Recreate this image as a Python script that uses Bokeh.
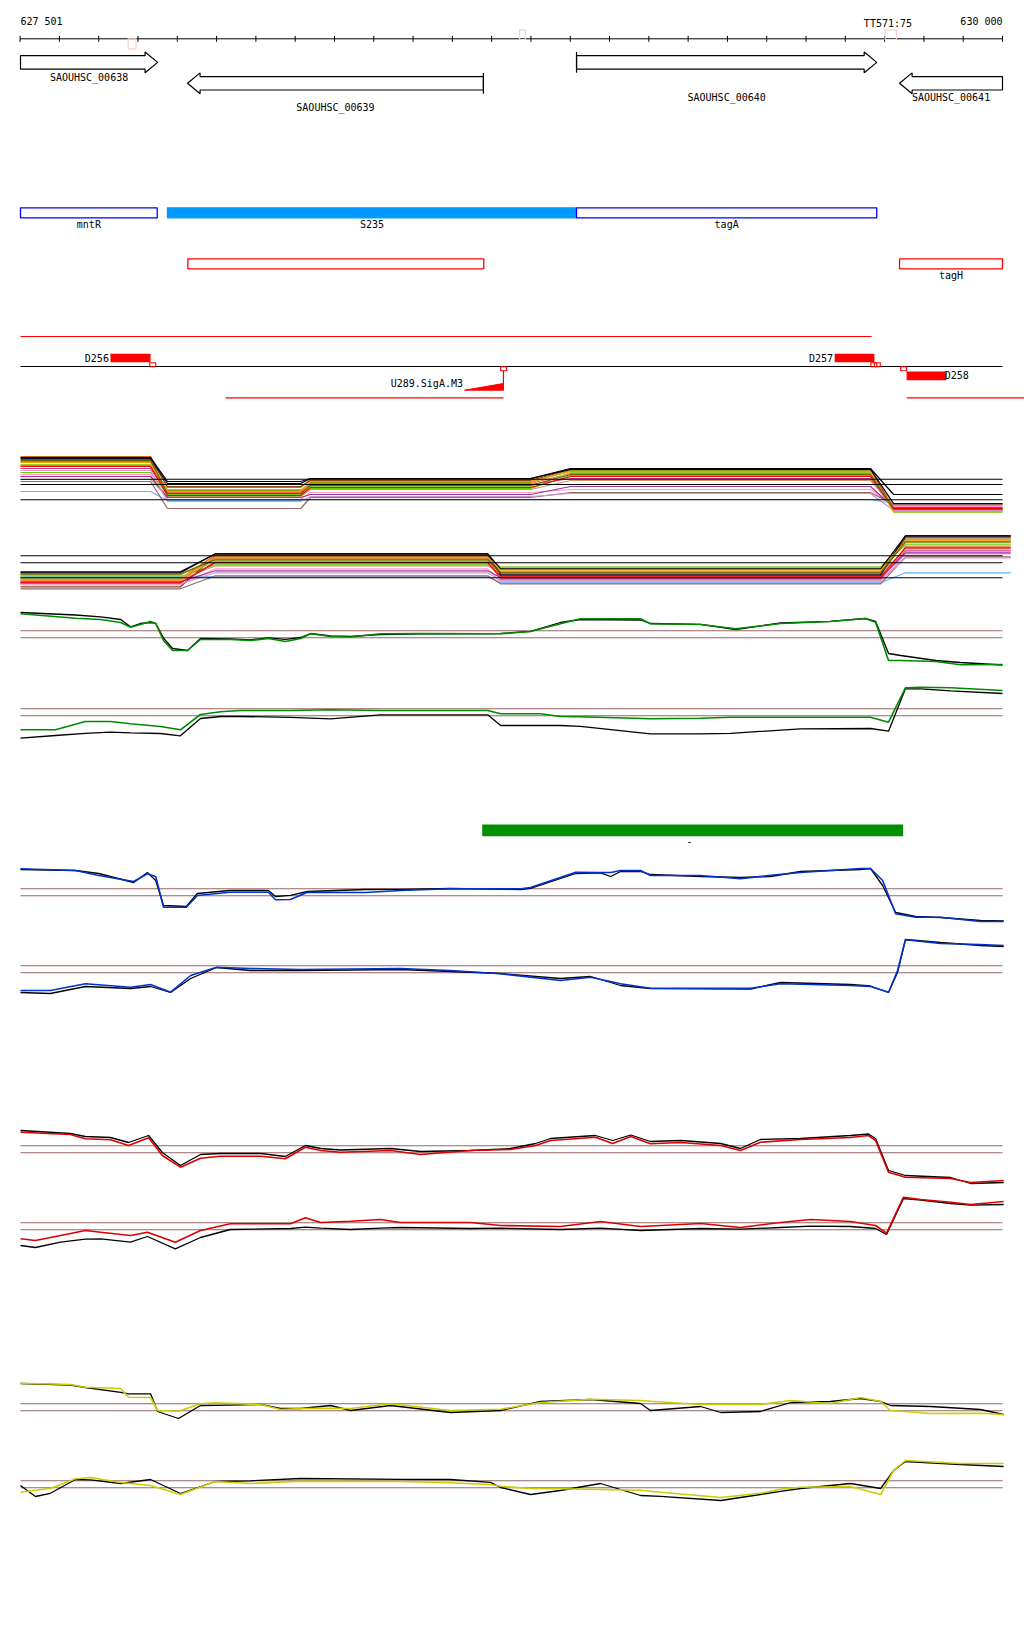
from bokeh.plotting import figure
from bokeh.models import Range1d
from bokeh.embed import file_html
from bokeh.resources import INLINE
from bokeh.core.properties import value

# ---------------- view / coordinate system ----------------
VIEW_START = 627501
VIEW_END = 630000
PAGE_W, PAGE_H, PAGE_TOP = 1024, 1636, 0
BP_PER_PX = (VIEW_END - VIEW_START) / 982.0
X0 = VIEW_START - 20 * BP_PER_PX
X1 = X0 + PAGE_W * BP_PER_PX
FONT = value("DejaVu Sans Mono")

# ---------------- ruler ----------------
ruler_ticks = list(range(627500, 630001, 100))
ruler_labels = ["627 501", "630 000"]
ruler_label_pos = [627501, 630000]
ruler_label_align = ["left", "right"]

term_start = [627775, 628771, 629701]
term_end = [627795, 628786, 629730]
term_side = [-1, 1, 1]
term_label = ["", "", "TT571:75"]

# ---------------- genes ----------------
gene_names = ["SAOUHSC_00638", "SAOUHSC_00639", "SAOUHSC_00640", "SAOUHSC_00641"]
gene_starts = [627501, 627926, 628916, 629738]
gene_ends = [627850, 628679, 629680, 630000]
gene_strands = [1, -1, 1, -1]
gene_label_y = [76.7, 106.7, 97.3, 97.3]

# ---------------- features ----------------
feat_names = ["mntR", "S235", "tagA", "", "tagH"]
feat_starts = [627501, 627875, 628916, 627927, 629738]
feat_ends = [627849, 628916, 629680, 628680, 630000]
feat_line = ["#0000FF", "#0099FF", "#0000FF", "#FF0000", "#FF0000"]
feat_fill = ["#FFFFFF", "#0099FF", "#FFFFFF", "#FFFFFF", "#FFFFFF"]
feat_row = [0, 0, 0, 1, 1]

# ---------------- transcript lines / blocks ----------------
tl_start = [627501, 627501, 628023, 629756]
tl_end = [629667, 630000, 628730, 630056]
tl_row = [0, 1, 2, 2]
tl_color = ["#FF0000", "#000000", "#FF0000", "#FF0000"]

block_names = ["D256", "D257", "D258"]
block_starts = [627730, 629573, 629756]
block_ends = [627832, 629674, 629857]
block_strand = [1, 1, -1]

mark_starts = [627830, 629665, 629674, 629741, 628723]
mark_strand = [1, 1, 1, -1, -1]

ramp_name = "U289.SigA.M3"
ramp_start, ramp_end = 628631, 628730

green_name = "-"
green_start, green_end = 628676, 629747

# ---------------- multi-sample tracks A / B ----------------
ab_colors = ["#D2691E", "#999900", "#66CC00", "#CC3399", "#FF99CC", "#66B2FF",
             "#FF6347", "#8B4513", "#CC9966", "#993399", "#996666", "#CC99CC",
             "#99CC33", "#000033", "#FF9900", "#FF0000", "#666600", "#000000"]
A_x = [627501, 627832, 627875, 628214, 628239, 628799, 628901, 629664, 629723, 630000]
A_L = [2.8, 2.3, 1.2, 1.6, 1.0, -0.7, 1.9, 2.5, 0.5, 0.8, 0.3, 1.4, 2.0, 2.6, 2.2, 1.8, 2.4, 2.7]
A_M1 = [-0.3, -0.6, -1.0, -0.9, -1.5, -1.6, -0.8, -0.2, -1.2, -1.3, -2.4, -1.7, -0.5, 0.1, -0.7, -1.1, -0.9, 0.3]
A_M2 = [0.5, 0.2, -0.4, 0.0, -0.8, -1.5, 0.1, 0.4, -0.5, -1.0, -1.3, -1.2, -0.2, 0.6, 0.3, -0.3, -0.1, 0.6]
A_M3 = [1.6, 1.4, 0.9, 0.6, -0.5, -1.5, 1.1, 1.5, 0.4, -0.2, -0.8, -0.9, 1.2, 1.5, 1.3, 0.8, 1.0, 1.6]
A_R = [-2.0, -2.7, -2.3, -2.5, -2.2, -1.9, -2.6, -2.4, -2.1, -2.3, -2.0, -2.6, -2.8, -1.9, -2.7, -2.4, -2.5, -1.0]
A_thr = [0.53, 0.0, -1.53]

B_x = [627501, 627908, 627997, 628690, 628723, 629690, 629753, 630021]
B_L = [-1.6, -1.2, -1.4, -2.0, -2.2, -1.3, -1.8, -2.4, -1.7, -1.9, -2.6, -2.1, -1.5, -1.0, -1.7, -2.0, -1.1, -0.9]
B_M1 = [0.8, 0.4, -0.2, 0.1, -0.6, -1.4, 0.5, 0.7, -0.3, -0.8, -1.3, -1.0, 0.2, 0.9, 0.6, 0.0, 0.3, 0.9]
B_M2 = [-1.0, -0.9, -0.5, -1.6, -1.9, -2.0, -1.7, -1.3, -1.1, -1.5, -2.1, -1.8, -0.4, -1.2, -0.8, -1.4, -1.0, -0.6]
B_R = [2.6, 2.3, 1.8, 1.2, 0.9, -1.0, 1.6, 2.5, 1.4, 1.0, 0.6, 0.5, 2.0, 2.7, 2.2, 1.5, 2.1, 2.7]
B_thr = [0.7, 0.0, -1.5]

# ---------------- paired tracks C..J ----------------
thr_lines = [0.35, -0.35]

C_x = [627501, 627641, 627705, 627756, 627781, 627806, 627832, 627845, 627865, 627888, 627926, 627959,
       628035, 628086, 628132, 628175, 628214, 628239, 628290, 628341, 628417, 628519, 628723, 628799,
       628875, 628926, 629079, 629104, 629232, 629321, 629435, 629562, 629651, 629677, 629710, 629741,
       629830, 629893, 630000]
C_col = [2.05, 1.61, 1.48, 1.18, 0.71, 0.98, 1.28, 1.08, -0.62, -1.62, -1.62, -0.52, -0.52, -0.62, -0.42,
         -0.72, -0.42, 0.05, -0.22, -0.27, 0.05, 0.08, 0.05, 0.28, 1.05, 1.55, 1.55, 1.05, 0.98, 0.55,
         1.08, 1.28, 1.58, 1.2, -2.62, -2.62, -2.72, -3.05, -3.02]
C_blk = [2.18, 1.93, 1.75, 1.48, 0.75, 1.08, 1.18, 1.1, -0.4, -1.42, -1.62, -0.42, -0.45, -0.55, -0.35,
         -0.5, -0.32, 0.08, -0.15, -0.2, -0.02, 0.05, 0.08, 0.3, 1.18, 1.48, 1.43, 1.08, 1.0, 0.48,
         1.13, 1.3, 1.58, 1.3, -1.92, -2.12, -2.62, -2.82, -3.07]

D_x = [627501, 627590, 627666, 627730, 627781, 627857, 627908, 627959, 628010, 628061, 628188, 628290,
       628417, 628690, 628723, 628824, 628875, 628926, 629104, 629232, 629308, 629486, 629664, 629710,
       629753, 629792, 629868, 630000]
D_col = [-1.75, -1.75, -0.92, -0.92, -1.15, -1.42, -1.75, -0.22, 0.05, 0.18, 0.18, 0.25, 0.18, 0.18,
         -0.15, -0.15, -0.42, -0.45, -0.65, -0.6, -0.49, -0.49, -0.49, -0.99, 2.45, 2.51, 2.45, 2.18]
D_blk = [-2.59, -2.32, -2.1, -1.99, -2.05, -2.12, -2.35, -0.62, -0.42, -0.42, -0.5, -0.65, -0.25, -0.25,
         -1.32, -1.32, -1.32, -1.4, -2.15, -2.15, -2.1, -1.65, -1.62, -1.89, 2.35, 2.35, 2.15, 1.88]

E_x = [627501, 627641, 627700, 627789, 627824, 627845, 627865, 627923, 627951, 628033, 628132, 628150,
       628188, 628231, 628379, 628468, 628595, 628774, 628799, 628914, 628977, 629003, 629028, 629079,
       629104, 629232, 629333, 629410, 629486, 629639, 629664, 629695, 629728, 629779, 629842, 629944,
       630003]
E_col = [2.35, 2.18, 1.68, 1.08, 1.85, 1.58, -1.49, -1.49, -0.32, 0.01, 0.01, -0.75, -0.72, 0.01, -0.02,
         0.18, 0.35, 0.35, 0.48, 2.01, 1.98, 1.98, 2.18, 2.18, 1.68, 1.68, 1.35, 1.7, 1.98, 2.38, 2.38,
         1.18, -2.15, -2.49, -2.49, -2.92, -2.92]
E_blk = [2.28, 2.18, 1.88, 0.98, 1.98, 1.18, -1.32, -1.42, -0.12, 0.18, 0.18, -0.42, -0.3, 0.08, 0.28,
         0.3, 0.38, 0.28, 0.4, 1.88, 1.95, 1.58, 2.08, 2.1, 1.78, 1.58, 1.48, 1.58, 2.08, 2.28, 2.38,
         0.68, -2.02, -2.42, -2.52, -2.82, -2.87]

F_x = [627501, 627577, 627666, 627781, 627832, 627883, 627934, 628000, 628086, 628214, 628468, 628595,
       628723, 628875, 628952, 629028, 629104, 629359, 629435, 629613, 629664, 629710, 629733, 629753,
       629842, 629944, 630003]
F_col = [-2.12, -2.12, -1.45, -1.79, -1.52, -2.29, -0.62, 0.21, 0.08, -0.02, 0.08, -0.12, -0.45, -1.12,
         -0.79, -1.45, -1.89, -1.89, -1.45, -1.62, -1.72, -2.29, -0.12, 2.95, 2.58, 2.48, 2.38]
F_blk = [-2.32, -2.42, -1.72, -1.92, -1.72, -2.32, -0.92, 0.18, -0.12, -0.12, -0.02, -0.22, -0.42, -0.92,
         -0.72, -1.62, -1.92, -1.97, -1.32, -1.52, -1.67, -2.32, -0.3, 2.98, 2.68, 2.38, 2.28]

G_x = [627501, 627628, 627666, 627730, 627776, 627827, 627862, 627908, 627959, 628010, 628112, 628175,
       628226, 628265, 628315, 628443, 628519, 628646, 628748, 628812, 628850, 628964, 629008, 629054,
       629104, 629181, 629283, 629333, 629384, 629486, 629613, 629659, 629677, 629710, 629753, 629868,
       629919, 630003]
G_col = [1.70, 1.47, 1.04, 0.94, 0.37, 1.14, -0.63, -1.80, -0.90, -0.70, -0.70, -0.96, 0.20, -0.13, -0.30,
         -0.13, -0.53, -0.13, -0.03, 0.37, 0.87, 1.20, 0.57, 1.27, 0.54, 0.67, 0.37, -0.13, 0.70, 0.97,
         1.17, 1.37, 0.87, -2.30, -2.80, -2.93, -3.33, -3.13]
G_blk = [1.87, 1.57, 1.27, 1.17, 0.67, 1.37, -0.33, -1.63, -0.53, -0.43, -0.43, -0.73, 0.37, 0.07, -0.08,
         0.07, -0.23, -0.13, 0.07, 0.57, 1.07, 1.37, 0.87, 1.42, 0.77, 0.87, 0.57, 0.07, 0.97, 1.07,
         1.37, 1.52, 1.07, -2.13, -2.63, -2.83, -3.43, -3.33]

H_x = [627501, 627539, 627603, 627666, 627705, 627781, 627824, 627895, 627959, 628035, 628188, 628226,
       628265, 628341, 628417, 628468, 628646, 628723, 628875, 628977, 629079, 629232, 629333, 629435,
       629512, 629613, 629677, 629705, 629748, 629792, 629868, 629919, 630003]
H_col = [-1.26, -1.43, -0.93, -0.43, -0.6, -0.93, -0.60, -1.60, -0.43, 0.24, 0.24, 0.84, 0.37, 0.5, 0.67,
         0.37, 0.37, 0.07, -0.03, 0.47, -0.03, 0.27, -0.13, 0.37, 0.67, 0.47, 0.07, -0.70, 2.90, 2.67,
         2.40, 2.17, 2.47]
H_blk = [-1.93, -2.13, -1.6, -1.3, -1.26, -1.60, -1.03, -2.26, -1.13, -0.33, -0.23, -0.1, -0.2, -0.33,
         -0.2, -0.13, -0.23, -0.2, -0.33, -0.2, -0.43, -0.23, -0.3, -0.13, 0.0, -0.03, -0.23, -0.83,
         2.77, 2.6, 2.27, 2.1, 2.17]

I_x = [627501, 627628, 627666, 627756, 627776, 627832, 627850, 627903, 627959, 627997, 628112, 628163,
       628214, 628290, 628341, 628443, 628595, 628723, 628824, 628952, 629079, 629104, 629232, 629283,
       629384, 629461, 629562, 629639, 629690, 629715, 629817, 629944, 630003]
I_col = [2.41, 2.28, 2.01, 1.88, 1.01, 0.98, -0.32, -0.39, 0.35, 0.45, 0.28, -0.22, -0.12, -0.1, -0.12,
         0.35, -0.32, -0.19, 0.48, 0.81, 0.68, 0.6, 0.28, 0.3, 0.28, 0.68, 0.38, 0.98, 0.58, -0.32,
         -0.62, -0.59, -0.72]
I_blk = [2.38, 2.23, 1.98, 1.5, 1.35, 1.35, -0.42, -1.12, 0.18, 0.2, 0.28, -0.12, -0.12, 0.18, -0.32,
         0.18, -0.52, -0.32, 0.58, 0.78, 0.38, -0.32, 0.08, -0.52, -0.42, 0.48, 0.58, 0.88, 0.58, 0.18,
         0.08, -0.22, -0.72]

J_x = [627501, 627539, 627577, 627641, 627679, 627756, 627832, 627908, 627997, 628086, 628214, 628468,
       628595, 628697, 628723, 628799, 628875, 628977, 629079, 629130, 629283, 629384, 629435, 629486,
       629613, 629690, 629723, 629753, 629893, 630003]
J_col = [-0.79, -0.6, -0.42, 0.55, 0.68, 0.18, -0.12, -1.02, 0.28, 0.08, 0.31, 0.28, 0.15, -0.02, -0.2,
         -0.42, -0.45, -0.52, -0.6, -0.79, -1.32, -0.9, -0.49, -0.3, -0.22, -1.02, 1.38, 2.38, 2.08, 2.08]
J_blk = [-0.12, -1.22, -0.9, 0.48, 0.45, 0.08, 0.48, -0.92, 0.28, 0.35, 0.58, 0.5, 0.48, 0.2, -0.32,
         -1.02, -0.62, 0.08, -1.12, -1.2, -1.62, -1.02, -0.7, -0.42, 0.08, -0.42, 1.38, 2.28, 1.98, 1.78]

# ---------------- layout (page pixel rows) ----------------
RULER_Y = 38.3
GENE_ROW_Y = {1: 61.9, -1: 82.8}
BODY_H, HEAD_H, HEAD_BP = 6.7, 10.4, 32
FEAT_ROWS = [(207.3, 217.3, 224.3), (258.3, 268.3, 275.3)]
TL_ROWS = [336.0, 366.0, 397.3]
track_base = {"A": 484.0, "B": 562.3, "C": 633.8, "D": 711.8, "E": 891.8, "F": 968.8,
              "G": 1148.7, "H": 1225.7, "I": 1406.8, "J": 1483.8}
UNIT_PX = 10.0
BOTTOM = PAGE_TOP + PAGE_H

p = figure(width=PAGE_W, height=PAGE_H, x_range=Range1d(X0, X1), y_range=Range1d(BOTTOM, PAGE_TOP),
           output_backend="svg", toolbar_location=None, min_border=0,
           x_axis_location=None, y_axis_location=None, outline_line_color=None)
p.xgrid.visible = False
p.ygrid.visible = False
p.background_fill_color = "white"
p.border_fill_color = "white"
p.extra_y_ranges = {k: Range1d(start=(b - BOTTOM) / UNIT_PX, end=(b - PAGE_TOP) / UNIT_PX)
                    for k, b in track_base.items()}


def txt(x, y, s, align="center", size="10px"):
    p.text(x=[x], y=[y], text=[s], text_font=FONT, text_font_size=size, text_align=align,
           text_baseline="middle", text_color="black")


# ruler
p.segment(x0=[ruler_ticks[0]], x1=[ruler_ticks[-1]], y0=[RULER_Y], y1=[RULER_Y], line_color="black", line_width=1)
p.segment(x0=ruler_ticks, x1=ruler_ticks, y0=[RULER_Y - 3] * len(ruler_ticks), y1=[RULER_Y + 3] * len(ruler_ticks),
          line_color="black", line_width=1)
for s, x, a in zip(ruler_labels, ruler_label_pos, ruler_label_align):
    txt(x, 20.5, s, a)
for s0, s1, side, lab in zip(term_start, term_end, term_side, term_label):
    top, bot = (29.3, 39.0) if side > 0 else (38.3, 48.3)
    p.quad(left=[s0], right=[s1], top=[top], bottom=[bot], fill_color=None, line_color="#F7D5C8", line_width=1.2)
    if lab:
        txt((s0 + s1) / 2 - 7, 22.5, lab)

# genes
gxs, gys = [], []
for st, en, sd in zip(gene_starts, gene_ends, gene_strands):
    yc = GENE_ROW_Y[sd]
    if sd > 0:
        hb = en - HEAD_BP
        gxs.append([st, hb, hb, en, hb, hb, st])
    else:
        hb = st + HEAD_BP
        gxs.append([en, hb, hb, st, hb, hb, en])
    gys.append([yc - BODY_H, yc - BODY_H, yc - HEAD_H, yc, yc + HEAD_H, yc + BODY_H, yc + BODY_H])
p.patches(xs=gxs, ys=gys, fill_color="white", line_color="black", line_width=1.2)
for st, en, sd, nm, ly in zip(gene_starts, gene_ends, gene_strands, gene_names, gene_label_y):
    yc = GENE_ROW_Y[sd]
    start_pos = st if sd > 0 else en
    if VIEW_START < start_pos < VIEW_END:
        p.segment(x0=[start_pos], x1=[start_pos], y0=[yc - HEAD_H], y1=[yc + HEAD_H], line_color="black", line_width=1.2)
    txt((st + en) / 2, ly, nm)

# features
for nm, st, en, lc, fc, r in zip(feat_names, feat_starts, feat_ends, feat_line, feat_fill, feat_row):
    top, bot, ly = FEAT_ROWS[r]
    p.quad(left=[st], right=[en], top=[top], bottom=[bot], fill_color=fc, line_color=lc, line_width=1.3)
    if nm:
        txt((st + en) / 2, ly, nm)

# transcript lines
for st, en, r, c in zip(tl_start, tl_end, tl_row, tl_color):
    p.segment(x0=[st], x1=[en], y0=[TL_ROWS[r]], y1=[TL_ROWS[r]], line_color=c, line_width=1.2)

for nm, st, en, sd in zip(block_names, block_starts, block_ends, block_strand):
    if sd > 0:
        p.quad(left=[st], right=[en], top=[353.3], bottom=[361.7], fill_color="#FF0000", line_color=None)
        txt(st - 4, 357.6, nm, "right")
    else:
        p.quad(left=[st], right=[en], top=[371.0], bottom=[379.7], fill_color="#FF0000", line_color=None)
        txt(en - 4, 375.4, nm, "left")

for st, sd in zip(mark_starts, mark_strand):
    top, bot = (362.3, 366.3) if sd > 0 else (366.3, 370.3)
    p.quad(left=[st], right=[st + 15], top=[top], bottom=[bot], fill_color=None, line_color="#FF0000", line_width=1.1)

p.patch(x=[ramp_start, ramp_end, ramp_end], y=[389.7, 389.7, 383.0], fill_color="#FF0000", line_color="#FF0000", line_width=1)
p.segment(x0=[ramp_end], x1=[ramp_end], y0=[370.3], y1=[389.7], line_color="#FF0000", line_width=1.2)
txt(ramp_start - 4, 383.3, ramp_name, "right")

p.quad(left=[green_start], right=[green_end], top=[824.0], bottom=[835.7], fill_color="#009100", line_color=None)
txt((green_start + green_end) / 2 - 8, 840.5, green_name)

# multi-sample tracks
for key, xs_, levels, thr in (("A", A_x, list(zip(A_L, A_M1, A_M2, A_M3, A_R)), A_thr),
                              ("B", B_x, list(zip(B_L, B_M1, B_M2, B_R)), B_thr)):
    for col, lv in zip(ab_colors, levels):
        ys_ = []
        for v in lv:
            ys_ += [v, v]
        p.line(x=xs_, y=ys_, line_color=col, line_width=1.2, y_range_name=key)
    for t in thr:
        p.segment(x0=[VIEW_START], x1=[VIEW_END], y0=[t], y1=[t], line_color="black", line_width=1.1, y_range_name=key)

# paired tracks
pairs = [("C", C_x, C_col, C_blk, "#008A00"), ("D", D_x, D_col, D_blk, "#008A00"),
         ("E", E_x, E_col, E_blk, "#0033CC"), ("F", F_x, F_col, F_blk, "#0033CC"),
         ("G", G_x, G_col, G_blk, "#DD0000"), ("H", H_x, H_col, H_blk, "#DD0000"),
         ("I", I_x, I_col, I_blk, "#CCCC00"), ("J", J_x, J_col, J_blk, "#CCCC00")]
for key, xs_, col_v, blk_v, col in pairs:
    for t in thr_lines:
        p.segment(x0=[VIEW_START], x1=[VIEW_END], y0=[t], y1=[t], line_color="#996666", line_width=1.1, y_range_name=key)
    p.line(x=xs_, y=blk_v, line_color="black", line_width=1.3, y_range_name=key)
    p.line(x=xs_, y=col_v, line_color=col, line_width=1.6, y_range_name=key)

open("out.html", "w").write(file_html(p, INLINE))
